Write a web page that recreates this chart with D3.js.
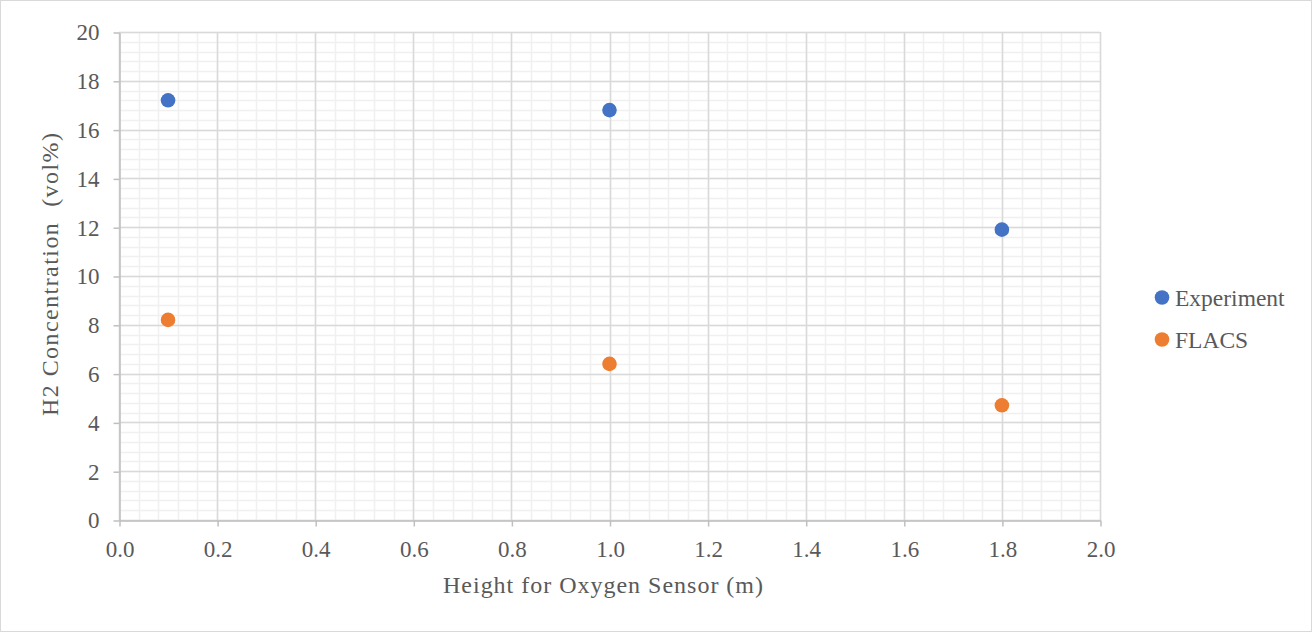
<!DOCTYPE html>
<html><head><meta charset="utf-8">
<script src="https://cdn.jsdelivr.net/npm/d3@7"></script>
<style>body{margin:0;background:#fff}svg{display:block}text{font-family:"Liberation Serif","Times New Roman",serif}</style>
</head><body>
<svg id="c" width="1312" height="632"></svg>
<script>
const seriesNames = ["Experiment", "FLACS"];
const seriesColors = ["#4472C4", "#ED7D31"];
const heights = [0.1, 1.0, 1.8];
const experimentValues = [17.2, 16.8, 11.9];
const flacsValues = [8.2, 6.4, 4.7];
const xTicks = [0, 0.2, 0.4, 0.6, 0.8, 1.0, 1.2, 1.4, 1.6, 1.8, 2.0];
const yTicks = [0, 2, 4, 6, 8, 10, 12, 14, 16, 18, 20];

const FONT = '"Liberation Serif","Times New Roman",serif';
const svg = d3.select("#c");
svg.append("rect").attr("x",0.5).attr("y",0.5).attr("width",1311).attr("height",631)
  .attr("fill","#fff").attr("stroke","#d9d9d9");

const L=119,R=1100,T=32,B=520;
const x = d3.scaleLinear().domain([0,2]).range([L,R]);
const y = d3.scaleLinear().domain([0,20]).range([B,T]);

const g = svg.append("g");
// minor grid
const xMinor = d3.range(0,51).map(i=>i*0.04);
const yMinor = d3.range(0,51).map(i=>i*0.4);
g.selectAll(".xm").data(xMinor).enter().append("line")
  .attr("x1",d=>Math.round(x(d))+0.5).attr("x2",d=>Math.round(x(d))+0.5)
  .attr("y1",T).attr("y2",B).attr("stroke","#f0f0f0").attr("stroke-width",1.5);
g.selectAll(".ym").data(yMinor).enter().append("line")
  .attr("y1",d=>Math.round(y(d))+0.5).attr("y2",d=>Math.round(y(d))+0.5)
  .attr("x1",L).attr("x2",R).attr("stroke","#f0f0f0").attr("stroke-width",1.5);
// major grid
g.selectAll(".xM").data(xTicks).enter().append("line")
  .attr("x1",d=>Math.round(x(d))+0.5).attr("x2",d=>Math.round(x(d))+0.5)
  .attr("y1",T).attr("y2",B).attr("stroke","#d9d9d9").attr("stroke-width",1.5);
g.selectAll(".yM").data(yTicks).enter().append("line")
  .attr("y1",d=>Math.round(y(d))+0.5).attr("y2",d=>Math.round(y(d))+0.5)
  .attr("x1",L).attr("x2",R).attr("stroke","#d9d9d9").attr("stroke-width",1.5);

// axes
const xAxis = d3.axisBottom(x).tickValues(xTicks).tickFormat(d3.format(".1f")).tickSize(6).tickSizeOuter(0).tickPadding(14);
const yAxis = d3.axisLeft(y).tickValues(yTicks).tickFormat(d3.format("d")).tickSize(6).tickSizeOuter(0).tickPadding(14);
const gx = svg.append("g").attr("transform",`translate(0.5,${B+0.5})`).call(xAxis);
const gy = svg.append("g").attr("transform",`translate(${L+0.5},0.5)`).call(yAxis);
[gx,gy].forEach(a=>{
  a.attr("font-family",FONT).attr("font-size",23);
  a.selectAll("path").attr("stroke","#bfbfbf").attr("stroke-width",1.5);
  a.selectAll("line").attr("stroke","#bfbfbf").attr("stroke-width",1.5);
  a.selectAll("text").attr("fill","#595959");
});

// points
const series = [experimentValues, flacsValues];
series.forEach((vals,si)=>{
  svg.append("g").selectAll("circle").data(vals).enter().append("circle")
    .attr("cx",(d,i)=>x(heights[i])).attr("cy",d=>y(d)).attr("r",7.3)
    .attr("fill",seriesColors[si]);
});

// titles
svg.append("text").attr("x",443).attr("y",593)
  .attr("fill","#595959").attr("font-size","24px").attr("font-family",FONT)
  .attr("textLength",320).attr("lengthAdjust","spacing")
  .text("Height for Oxygen Sensor (m)");
svg.append("text").attr("transform","translate(58,416) rotate(-90)")
  .attr("fill","#595959").attr("font-size","24px").attr("font-family",FONT)
  .attr("textLength",283).attr("lengthAdjust","spacing")
  .style("white-space","pre").text("H2 Concentration  (vol%)");

// legend
const lg = svg.append("g");
seriesNames.forEach((n,i)=>{
  const cy = 297.5 + i*42;
  lg.append("circle").attr("cx",1162).attr("cy",cy).attr("r",7.3).attr("fill",seriesColors[i]);
  lg.append("text").attr("x",1175).attr("y",cy+8).attr("fill","#595959")
    .attr("font-size","23.5px").attr("font-family",FONT).text(n);
});
</script>
</body></html>
